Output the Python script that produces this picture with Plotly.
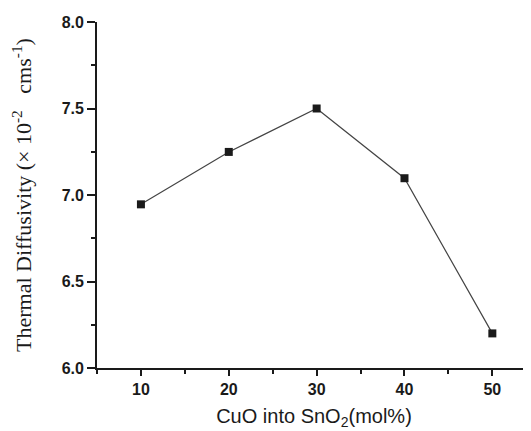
import plotly.graph_objects as go

cuo_mol = [10, 20, 30, 40, 50]
diffusivity = [6.946, 7.249, 7.50, 7.097, 6.20]
x_ticks = [10, 20, 30, 40, 50]
y_ticks = [6.0, 6.5, 7.0, 7.5, 8.0]
y_tick_labels = ["6.0", "6.5", "7.0", "7.5", "8.0"]

fig = go.Figure(go.Scatter(
    x=cuo_mol,
    y=diffusivity,
    mode="lines+markers",
    line=dict(color="#444444", width=1.2),
    marker=dict(symbol="square", size=8, color="#1a1a1a"),
    cliponaxis=False,
))

tick_font = dict(family="Liberation Sans, Arial", size=16, color="#1a1a1a", weight="bold")

# page has an 8px body margin, so the figure is sized to end at the window edge
fig.update_layout(
    width=523,
    height=423,
    margin=dict(l=89, r=0, t=14, b=63),
    paper_bgcolor="white",
    plot_bgcolor="white",
    showlegend=False,
    xaxis=dict(
        range=[5, 54.4],
        tickvals=x_ticks,
        ticks="outside",
        ticklen=6,
        tickwidth=1.5,
        tickcolor="#1a1a1a",
        minor=dict(dtick=5, tick0=5, ticks="outside", ticklen=4, tickcolor="#1a1a1a"),
        showline=True,
        linecolor="#1a1a1a",
        linewidth=1.8,
        showgrid=False,
        zeroline=False,
        tickfont=tick_font,
        title=dict(
            text="CuO into SnO<sub>2</sub>(mol%)",
            font=dict(family="Liberation Sans, Arial", size=20, color="#1a1a1a"),
            standoff=12,
        ),
    ),
    yaxis=dict(
        range=[6.0, 8.0],
        tickvals=y_ticks,
        ticktext=y_tick_labels,
        ticks="outside",
        ticklen=8,
        tickwidth=1.5,
        tickcolor="#1a1a1a",
        minor=dict(dtick=0.25, tick0=6.0, ticks="outside", ticklen=4, tickcolor="#1a1a1a"),
        showline=True,
        linecolor="#1a1a1a",
        linewidth=1.8,
        showgrid=False,
        zeroline=False,
        tickfont=tick_font,
        title=dict(
            text="Thermal Diffusivity (× 10<sup>-2</sup>&nbsp;&nbsp;&nbsp;cms<sup>-1</sup>)",
            font=dict(family="Liberation Serif, Times New Roman", size=22, color="#1a1a1a"),
            standoff=26,
        ),
    ),
)

fig.write_html("out.html")
